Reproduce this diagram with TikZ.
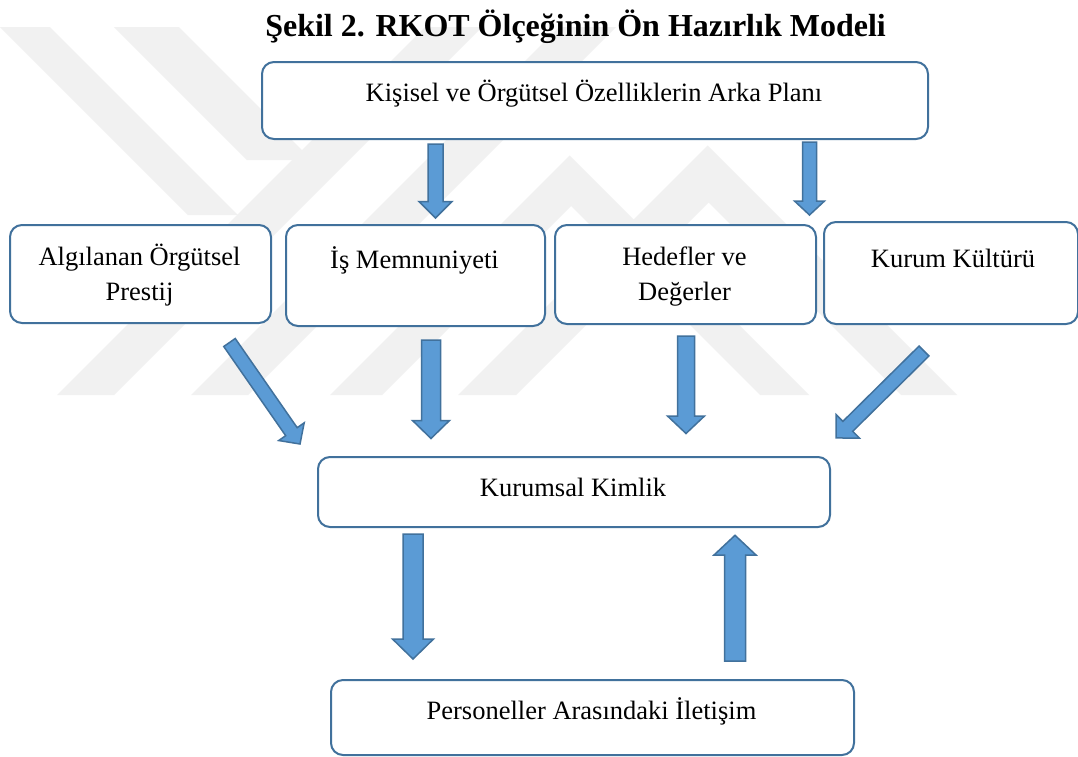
\documentclass[tikz,border=0pt]{standalone}
\usepackage{fontspec}
\setmainfont{Liberation Serif}
\usetikzlibrary{calc}
\definecolor{boxline}{HTML}{41719C}
\definecolor{arrfill}{HTML}{5B9BD5}
\definecolor{arrline}{HTML}{41719C}
\definecolor{wmark}{HTML}{F1F1F1}
\tikzset{
  box/.style={draw=boxline, line width=2pt, rounded corners=12pt, fill=white, inner sep=0pt, anchor=north west},
  txt/.style={font=\fontsize{26.5}{35}\selectfont, inner sep=0pt, anchor=base, align=center},
  ttl/.style={font=\bfseries\fontsize{32}{38}\selectfont, inner sep=0pt, anchor=base},
  blockarrow/.style={draw=arrline, fill=arrfill, line width=1.5pt, line join=miter},
  band/.style={fill=wmark}
}
\newcommand{\blockarr}[5]{%
  \pgfpointdiff{\pgfpointanchor{#1}{center}}{\pgfpointanchor{#2}{center}}%
  \pgfgetlastxy{\bax}{\bay}%
  \pgfmathsetmacro{\baang}{atan2(\bay,\bax)}%
  \pgfmathsetmacro{\balen}{veclen(\bax,\bay)}%
  \begin{scope}[shift={(#1)},rotate=\baang]
    \path[blockarrow] (0pt,#3) -- (\balen pt-#5,#3) -- (\balen pt-#5,#4) -- (\balen pt,0pt)
      -- (\balen pt-#5,-#4) -- (\balen pt-#5,-#3) -- (0pt,-#3) -- cycle;
  \end{scope}}
\begin{document}
\begin{tikzpicture}[x=1pt,y=-1pt]
\useasboundingbox (0,0) rectangle (1078,756);
\fill[white] (0,0) rectangle (1078,756);

% faint background watermark bands
\fill[band] (0,27) -- (50,27) -- (238,215) -- (188,215) -- (0,27) -- cycle;
\fill[band] (114,27) -- (179,27) -- (312,160) -- (247,160) -- cycle;
\fill[band] (57,395) -- (114,395) -- (482,27) -- (425,27) -- cycle;
\fill[band] (191,395) -- (248,395) -- (616,27) -- (559,27) -- cycle;
\fill[band] (330,395) -- (569.5,155.5) -- (809,395) -- (760,395) -- (571,206) -- (382,395) -- cycle;
\fill[band] (458,395) -- (707.5,145.5) -- (957,395) -- (901,395) -- (708.5,202.5) -- (516,395) -- cycle;

% title
\node[ttl] (title) at (575.5,36) {Şekil 2. RKOT Ölçeğinin Ön Hazırlık Modeli};

% boxes
\node[box, minimum width=666pt, minimum height=77pt] (top) at (261,61) {};
\node[box, minimum width=261pt, minimum height=98pt] (prestij) at (9,224) {};
\node[box, minimum width=259pt, minimum height=101pt] (memnun) at (285,224) {};
\node[box, minimum width=261pt, minimum height=99pt] (hedef) at (554,224) {};
\node[box, minimum width=254pt, minimum height=102pt] (kultur) at (823,221) {};
\node[box, minimum width=512pt, minimum height=70pt] (kimlik) at (317,456) {};
\node[box, minimum width=523pt, minimum height=75pt] (iletisim) at (330,679) {};

% texts
\node[txt] (topt) at (594,101) {Kişisel ve Örgütsel Özelliklerin Arka Planı};
\node[txt] (prestijt) at (139.5,300) {Algılanan Örgütsel\\Prestij};
\node[txt] (memnunt) at (414.5,268) {İş Memnuniyeti};
\node[txt] (hedeft) at (684.5,300) {Hedefler ve\\Değerler};
\node[txt] (kulturt) at (953,267) {Kurum Kültürü};
\node[txt] (kimlikt) at (573,496) {Kurumsal Kimlik};
\node[txt] (iletisimt) at (591.5,719) {Personeller Arasındaki İletişim};

% arrow end points
\coordinate (a1s) at (435.5,144); \coordinate (a1e) at (435.5,218);
\coordinate (a2s) at (809.5,142); \coordinate (a2e) at (809.5,215);
\coordinate (a3s) at (229.5,342.5); \coordinate (a3e) at (300,444);
\coordinate (a4s) at (431,340); \coordinate (a4e) at (431,438.5);
\coordinate (a5s) at (686,336); \coordinate (a5e) at (686,433.5);
\coordinate (a6s) at (924,351); \coordinate (a6e) at (836,438);
\coordinate (a7s) at (413,534); \coordinate (a7e) at (413,659);
\coordinate (a8s) at (735,661); \coordinate (a8e) at (735,535.3);

\blockarr{a1s}{a1e}{7.5pt}{16.5pt}{16.5pt}
\blockarr{a2s}{a2e}{7pt}{15pt}{14pt}
\blockarr{a3s}{a3e}{7pt}{15.5pt}{15pt}
\blockarr{a4s}{a4e}{9.5pt}{18.5pt}{18pt}
\blockarr{a5s}{a5e}{8.5pt}{18.5pt}{17.5pt}
\blockarr{a6s}{a6e}{7pt}{16.5pt}{16.5pt}
\blockarr{a7s}{a7e}{10pt}{20.5pt}{20pt}
\blockarr{a8s}{a8e}{10.5pt}{21pt}{19.7pt}
\end{tikzpicture}
\end{document}
